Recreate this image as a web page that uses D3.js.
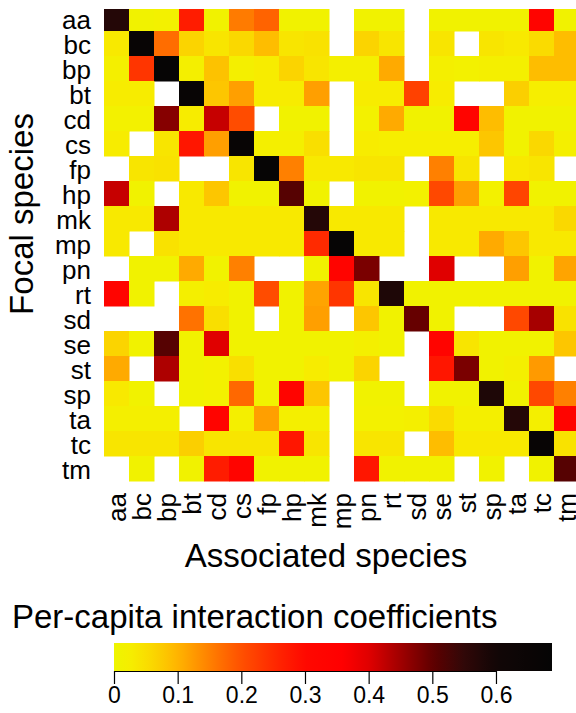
<!DOCTYPE html>
<html>
<head>
<meta charset="utf-8">
<script src="https://cdn.jsdelivr.net/npm/d3@7"></script>
<style>
  html, body { margin: 0; padding: 0; background: #fff; }
  svg { display: block; font-family: "Liberation Sans", Arial, sans-serif; }
</style>
</head>
<body>
<div id="chart"></div>
<script>
// species order (rows = focal, columns = associated)
const species = ["aa","bc","bp","bt","cd","cs","fp","hp","mk","mp","pn","rt","sd","se","st","sp","ta","tc","tm"];

// per-capita interaction coefficients, one array per focal species (null = no estimate)
const aa = [0.57,0.01,0.015,0.27,0.01,0.155,0.18,0.01,0.01,null,0.01,0.01,null,0.01,0.01,0.01,0.01,0.33,0.01];
const bc = [0.035,0.67,0.17,0.065,0.04,0.06,0.09,0.04,0.045,null,0.065,0.04,null,0.04,null,0.04,0.035,0.055,0.09];
const bp = [0.02,0.235,0.68,0.02,0.085,0.02,0.03,0.065,0.04,0.02,0.02,0.11,null,0.02,0.015,0.02,0.02,0.09,0.09];
const bt = [0.03,0.03,null,0.67,0.08,0.12,0.03,0.03,0.12,null,0.03,0.03,0.22,0.03,null,null,0.07,0.025,0.025];
const cd = [0.015,0.015,0.47,0.03,0.42,0.205,null,0.01,0.01,null,0.015,0.11,0.01,0.01,0.33,0.09,0.01,0.01,0.01];
const cs = [0.03,null,0.04,0.28,0.12,0.67,0.02,0.02,0.05,null,0.03,0.025,0.025,0.025,0.025,0.08,0.01,0.06,0.02];
const fp = [null,0.04,0.045,null,null,0.04,0.68,0.15,0.035,0.035,0.04,0.04,null,0.15,0.04,null,0.035,0.04,null];
const hp = [0.42,0.01,null,0.035,0.08,0.01,0.01,0.51,0.01,null,0.01,0.01,0.015,0.21,0.12,0.015,0.215,0.01,0.01];
const mk = [0.035,0.035,0.44,0.035,0.035,0.035,0.035,0.035,0.57,0.035,0.035,0.035,null,0.035,0.035,0.035,0.035,0.035,0.06];
const mp = [0.035,null,0.045,0.035,0.035,0.035,0.035,0.035,0.25,0.68,0.035,0.035,null,0.035,0.035,0.11,0.08,0.035,0.035];
const pn = [null,0.01,0.01,0.11,0.01,0.15,null,null,0.01,0.33,0.48,null,null,0.40,null,null,0.12,0.01,0.115];
const rt = [0.33,0.01,null,0.02,0.03,0.01,0.205,0.01,0.115,0.235,0.04,0.58,0.01,0.01,0.01,0.01,0.01,0.01,0.01];
const sd = [null,null,null,0.165,0.05,0.01,null,0.01,0.12,null,0.08,0.01,0.495,0.01,null,null,0.21,0.445,0.045];
const se = [0.065,0.01,0.51,0.01,0.40,0.01,0.01,0.01,0.01,0.01,0.02,0.01,null,0.33,0.04,0.01,0.01,0.01,0.08];
const st = [0.11,null,0.44,0.01,0.015,0.05,0.01,0.01,0.03,0.01,0.065,null,null,0.28,0.48,0.01,0.02,0.125,null];
const sp = [0.035,0.01,null,0.01,0.015,0.175,0.01,0.33,0.08,null,0.01,0.01,null,0.01,0.01,0.58,0.01,0.21,0.15];
const ta = [0.02,0.02,0.02,null,0.33,0.02,0.12,0.02,0.02,null,0.015,0.015,0.02,0.055,0.02,0.02,0.57,0.02,0.33];
const tc = [0.04,0.04,0.04,0.07,0.04,0.04,0.04,0.28,0.04,null,0.04,0.04,null,0.09,0.035,0.035,0.035,0.67,0.045];
const tm = [null,0.01,null,0.01,0.27,0.33,0.01,0.01,0.01,null,0.28,0.01,0.01,0.01,null,0.01,null,0.01,0.51];

const legendTicks = [0, 0.1, 0.2, 0.3, 0.4, 0.5, 0.6];
const legendMax = 0.688;

const rows = [aa,bc,bp,bt,cd,cs,fp,hp,mk,mp,pn,rt,sd,se,st,sp,ta,tc,tm];

const width = 576, height = 713;

const svg = d3.select("#chart").append("svg")
    .attr("width", width)
    .attr("height", height);

// yellow -> orange -> red -> black ramp
const color = d3.scaleLinear()
    .domain([0, 0.03, 0.06, 0.1, 0.15, 0.2, 0.25, 0.3, 0.36, 0.4, 0.45, 0.5, 0.55, 0.6, 0.69])
    .range(["#eef500","#f7ec00","#fad800","#ffb400","#ff8000","#ff5000","#ff2a00","#ff0800",
            "#ff0000","#e00000","#a00000","#600000","#300808","#120606","#050505"])
    .clamp(true);

const x = d3.scaleBand().domain(species).range([104, 579]);
const y = d3.scaleBand().domain(species).range([6, 481]);

// top edge of the plot is trimmed in the original figure
svg.append("clipPath").attr("id", "clip")
  .append("rect")
    .attr("x", 0).attr("y", 9)
    .attr("width", width).attr("height", 480);

const cells = [];
rows.forEach((r, i) => {
    r.forEach((v, j) => {
        if (v !== null) cells.push({row: species[i], col: species[j], value: v});
    });
});

svg.append("g")
    .attr("clip-path", "url(#clip)")
  .selectAll("rect")
  .data(cells)
  .enter()
  .append("rect")
    .attr("x", d => x(d.col))
    .attr("y", d => y(d.row))
    .attr("width", x.bandwidth() + 0.5)
    .attr("height", y.bandwidth() + 0.5)
    .attr("fill", d => color(d.value));

// row labels
svg.append("g")
  .selectAll("text")
  .data(species)
  .enter()
  .append("text")
    .attr("x", 91)
    .attr("y", d => y(d) + y.bandwidth() / 2 + 1)
    .attr("dy", "0.35em")
    .attr("text-anchor", "end")
    .style("font-size", "26px")
    .attr("fill", "black")
    .text(d => d);

// column labels (vertical)
svg.append("g")
  .selectAll("text")
  .data(species)
  .enter()
  .append("text")
    .attr("transform", d => "translate(" + (x(d) + x.bandwidth() / 2) + ",493) rotate(-90)")
    .attr("dy", "0.35em")
    .attr("text-anchor", "end")
    .style("font-size", "26px")
    .attr("fill", "black")
    .text(d => d);

// axis titles
svg.append("text")
    .attr("x", 326)
    .attr("y", 567)
    .attr("text-anchor", "middle")
    .style("font-size", "33px")
    .text("Associated species");

svg.append("text")
    .attr("transform", "translate(33,214) rotate(-90)")
    .attr("text-anchor", "middle")
    .style("font-size", "33px")
    .text("Focal species");

// colour bar
svg.append("text")
    .attr("x", 12)
    .attr("y", 628)
    .style("font-size", "33px")
    .text("Per-capita interaction coefficients");

const lx = d3.scaleLinear().domain([0, legendMax]).range([114, 552]);

const grad = svg.append("defs").append("linearGradient")
    .attr("id", "ramp")
    .attr("x1", "0%").attr("x2", "100%")
    .attr("y1", "0%").attr("y2", "0%");

grad.selectAll("stop")
    .data(d3.range(0, 1.0001, 0.02))
    .enter()
    .append("stop")
      .attr("offset", d => (d * 100) + "%")
      .attr("stop-color", d => color(d * legendMax));

svg.append("rect")
    .attr("x", lx(0))
    .attr("y", 643)
    .attr("width", lx(legendMax) - lx(0))
    .attr("height", 28)
    .attr("fill", "url(#ramp)");

const legendAxis = d3.axisBottom(lx)
    .tickValues(legendTicks)
    .tickFormat(d => d === 0 ? "0" : d3.format(".1f")(d))
    .tickSize(13)
    .tickPadding(3);

const ag = svg.append("g")
    .attr("transform", "translate(0,671)")
    .call(legendAxis);

ag.select(".domain").remove();
ag.append("line")
    .attr("x1", lx(0)).attr("x2", lx(0.6))
    .attr("y1", 0.5).attr("y2", 0.5)
    .attr("stroke", "black");

ag.selectAll(".tick line").attr("stroke", "black").attr("stroke-width", 1.2);
ag.selectAll(".tick text")
    .attr("fill", "black")
    .style("font-size", "23px")
    .style("font-family", "'Liberation Sans', Arial, sans-serif");
</script>
</body>
</html>
